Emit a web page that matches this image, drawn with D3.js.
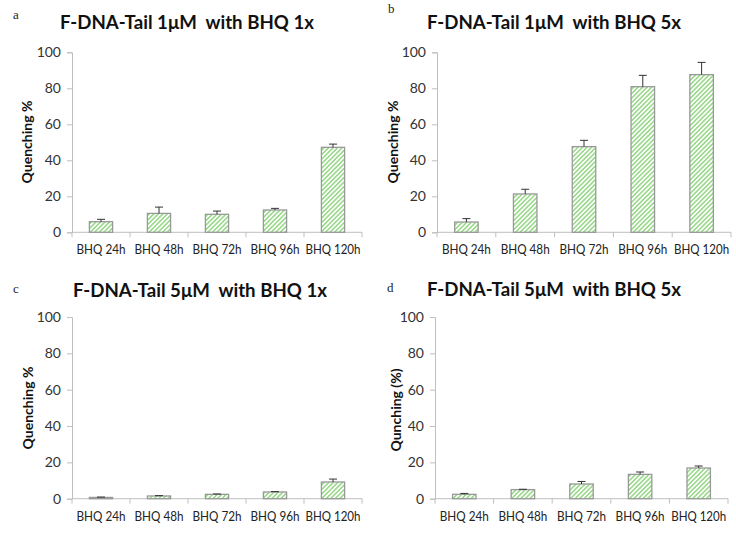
<!DOCTYPE html>
<html><head><meta charset="utf-8">
<script src="https://cdn.jsdelivr.net/npm/d3@7"></script>
<style>body{margin:0;background:#fff}svg{display:block}</style>
</head><body>
<svg id="chart" width="736" height="533"></svg>
<script>
const categories = ["BHQ 24h","BHQ 48h","BHQ 72h","BHQ 96h","BHQ 120h"];
const yTicks = [0,20,40,60,80,100];
const valuesA = [5.9, 10.5, 10.0, 12.4, 47.2];
const errorsA = [1.3, 3.5, 1.8, 0.9, 1.8];
const valuesB = [5.7, 21.3, 47.6, 80.9, 87.6];
const errorsB = [1.9, 2.6, 3.5, 6.3, 6.8];
const valuesC = [0.7, 1.5, 2.4, 3.7, 9.2];
const errorsC = [0.2, 0.2, 0.2, 0.2, 1.6];
const valuesD = [2.4, 5.0, 8.1, 13.4, 16.9];
const errorsD = [0.5, 0.2, 1.4, 1.3, 1.1];
const titles = ["F-DNA-Tail 1\u03bcM  with BHQ 1x","F-DNA-Tail 1\u03bcM  with BHQ 5x","F-DNA-Tail 5\u03bcM  with BHQ 1x","F-DNA-Tail 5\u03bcM  with BHQ 5x"];
const letters = ["a","b","c","d"];
const yTitles = ["Quenching %","Quenching %","Quenching %","Qunching (%)"];

const panels = [
  {v: valuesA, e: errorsA, x0:72, x1:362, yT:52.3, yB:232.3, tx:187, ty:29, lx:13, ly:19, ytx:27, yty:142},
  {v: valuesB, e: errorsB, x0:437, x1:731, yT:52.3, yB:232.3, tx:554, ty:29, lx:388, ly:13, ytx:393, yty:142},
  {v: valuesC, e: errorsC, x0:72, x1:362, yT:317, yB:498.7, tx:200, ty:297, lx:13, ly:293, ytx:28, yty:408},
  {v: valuesD, e: errorsD, x0:435, x1:728, yT:317, yB:498.7, tx:554, ty:296, lx:387, ly:292, ytx:396, yty:410}
];

const svg = d3.select("#chart");
const defs = svg.append("defs");
const pat = defs.append("pattern").attr("id","stripes").attr("patternUnits","userSpaceOnUse")
  .attr("width",3.2).attr("height",3.2).attr("patternTransform","rotate(45)");
pat.append("rect").attr("width",3.2).attr("height",3.2).attr("fill","#ffffff");
pat.append("rect").attr("width",1.6).attr("height",3.2).attr("fill","#9bd98c");

const font = "Lato, 'Open Sans', sans-serif";
const axisColor = "#bfbfbf";

panels.forEach((p,i) => {
  const g = svg.append("g");
  const x = d3.scaleBand().domain(categories).range([p.x0,p.x1]).paddingInner(0.6).paddingOuter(0.3);
  const y = d3.scaleLinear().domain([0,100]).range([p.yB,p.yT]);

  const yAx = g.append("g").attr("transform",`translate(${p.x0},0)`)
    .call(d3.axisLeft(y).tickValues(yTicks).tickSize(5).tickPadding(6));
  yAx.select(".domain").attr("stroke",axisColor);
  yAx.selectAll(".tick line").attr("stroke",axisColor);
  yAx.selectAll(".tick text").attr("font-family",font).attr("font-size","14px").attr("fill","#333");

  const xAx = g.append("g").attr("transform",`translate(0,${p.yB})`)
    .call(d3.axisBottom(x).tickSize(0).tickPadding(13).tickSizeOuter(0));
  xAx.select(".domain").attr("stroke",axisColor).attr("d",`M${p.x0},0H${p.x1}`);
  xAx.selectAll(".tick text").attr("font-family",font).attr("font-size","12.5px").attr("fill","#222")
    .attr("textLength",d => d.length > 7 ? 55 : 49).attr("lengthAdjust","spacingAndGlyphs");
  const bounds = categories.map(c => x(c) - x.step()*x.paddingInner()/2).concat([p.x1]);
  g.selectAll(".sep").data(bounds).enter().append("line")
    .attr("x1",d=>d).attr("x2",d=>d).attr("y1",p.yB).attr("y2",p.yB+5).attr("stroke",axisColor);

  g.selectAll(".bar").data(categories).enter().append("rect")
    .attr("x",c=>x(c)).attr("width",x.bandwidth())
    .attr("y",(c,k)=>y(p.v[k])).attr("height",(c,k)=>y(0)-y(p.v[k]))
    .attr("fill","url(#stripes)").attr("stroke","#999").attr("stroke-width",1.3);

  const eb = g.selectAll(".err").data(categories).enter().append("g");
  eb.append("line").attr("x1",c=>x(c)+x.bandwidth()/2).attr("x2",c=>x(c)+x.bandwidth()/2)
    .attr("y1",(c,k)=>y(p.v[k])).attr("y2",(c,k)=>y(p.v[k]+p.e[k])).attr("stroke","#333").attr("stroke-width",1);
  eb.append("line").attr("x1",c=>x(c)+x.bandwidth()/2-4).attr("x2",c=>x(c)+x.bandwidth()/2+4)
    .attr("y1",(c,k)=>y(p.v[k]+p.e[k])).attr("y2",(c,k)=>y(p.v[k]+p.e[k])).attr("stroke","#333").attr("stroke-width",1);

  g.append("text").attr("x",p.tx).attr("y",p.ty).attr("text-anchor","middle")
    .style("white-space","pre")
    .attr("font-family",font).attr("font-weight","bold").attr("font-size","19px").attr("fill","#111")
    .attr("textLength",254).attr("lengthAdjust","spacingAndGlyphs")
    .text(titles[i]);
  g.append("text").attr("x",p.lx).attr("y",p.ly).attr("font-family","'Liberation Serif', serif")
    .attr("font-size","13px").attr("fill","#222").text(letters[i]);
  g.append("text").attr("transform",`translate(${p.ytx},${p.yty}) rotate(-90)`).attr("text-anchor","middle")
    .attr("dy","0.35em").attr("font-family",font).attr("font-weight","bold").attr("font-size","14px").attr("fill","#111")
    .text(yTitles[i]);
});
</script>
</body></html>
